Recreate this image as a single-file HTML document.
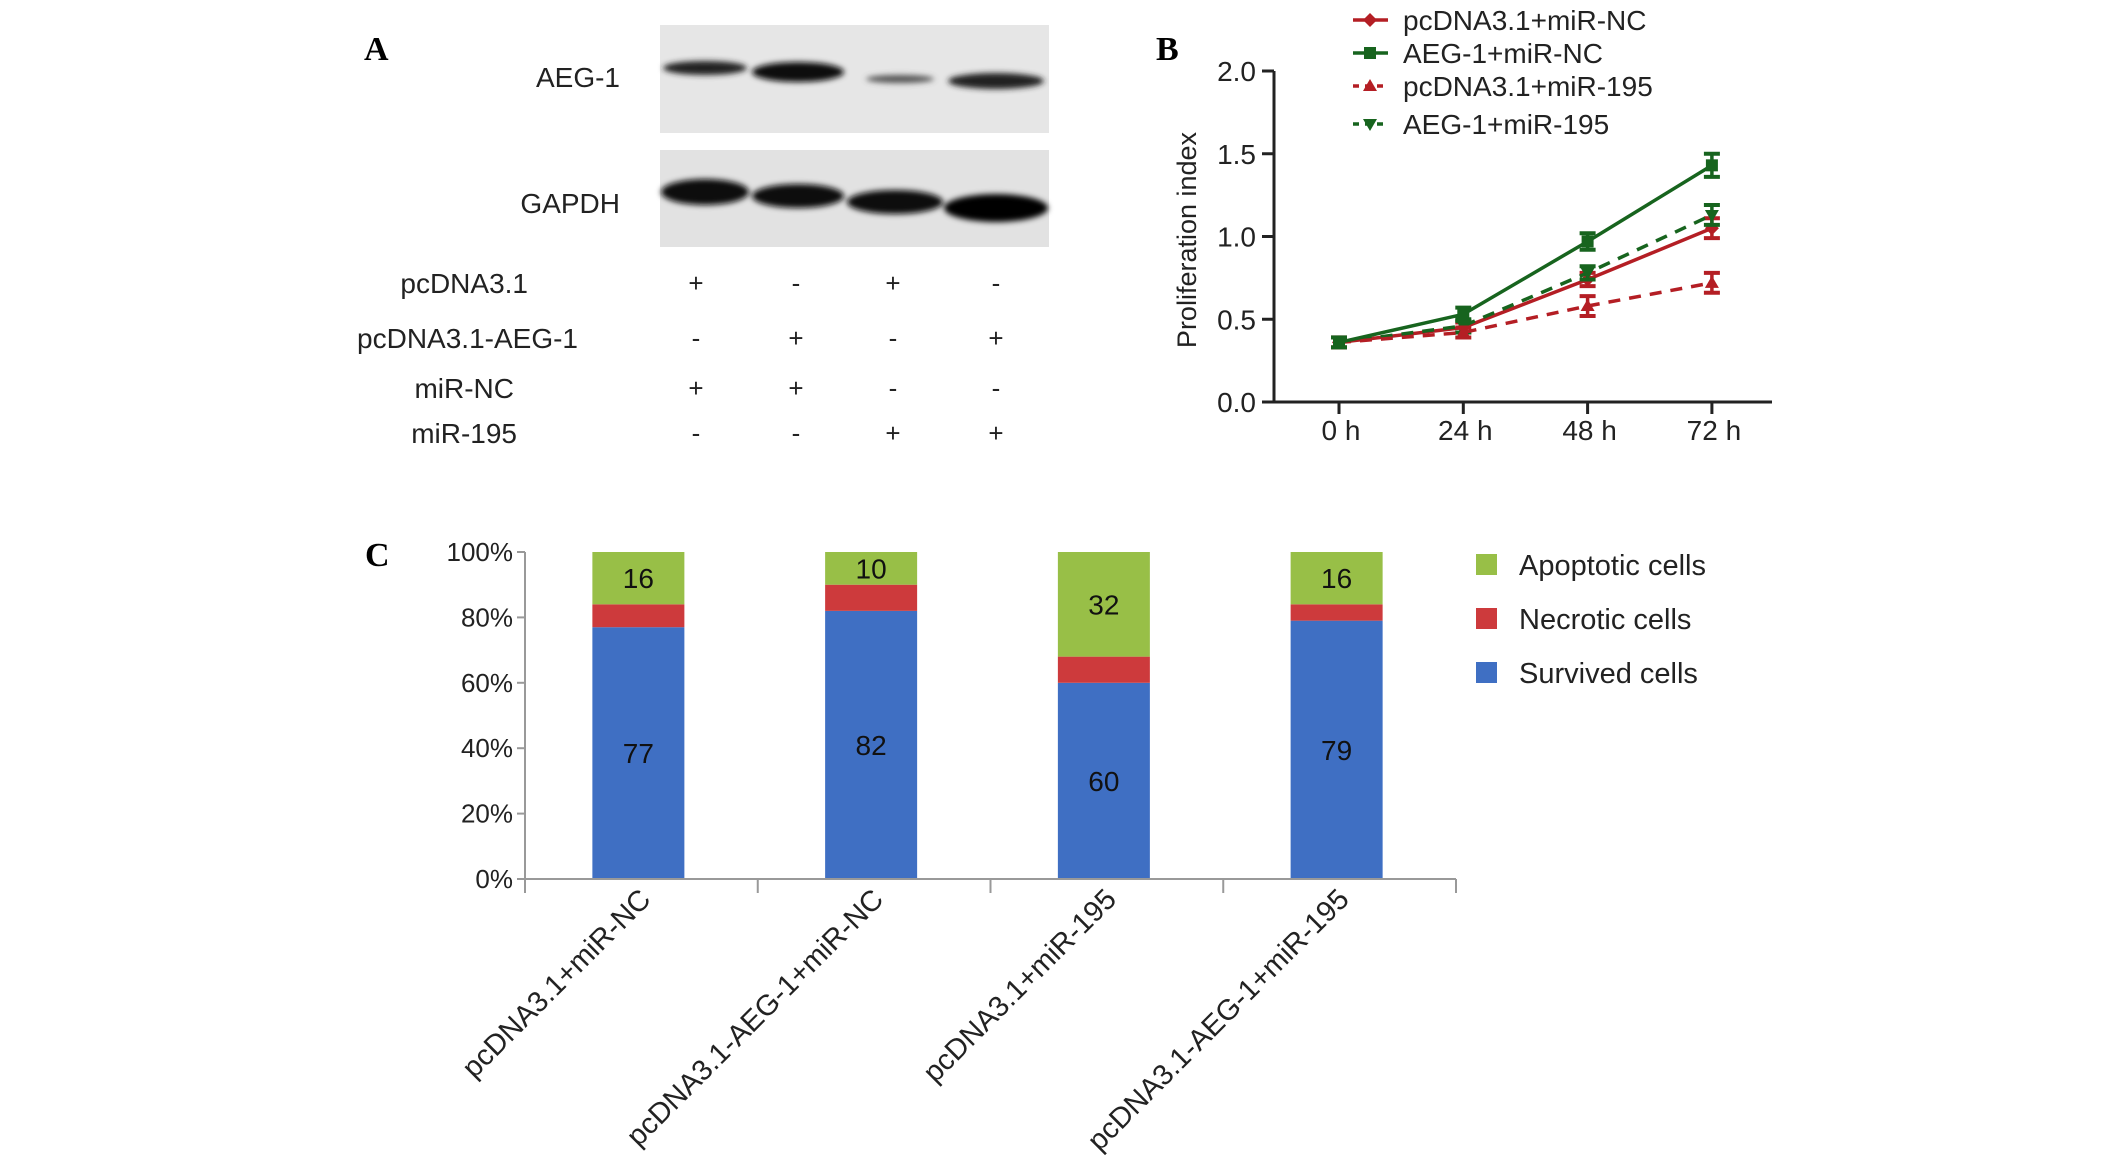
<!DOCTYPE html>
<html><head><meta charset="utf-8"><style>
html,body{margin:0;padding:0;background:#fff;}
svg{display:block;font-family:"Liberation Sans",Arial,sans-serif;}
</style></head><body>
<svg id="fig" width="2126" height="1173" viewBox="0 0 2126 1173" xmlns="http://www.w3.org/2000/svg">
<defs>
<filter id="blur" x="-20%" y="-50%" width="140%" height="200%"><feGaussianBlur stdDeviation="3"/></filter>
</defs>
<g id="panelA">
<text x="364" y="60" font-family="Liberation Serif,serif" font-weight="bold" font-size="34">A</text>
<rect x="660" y="25" width="389" height="108" fill="#e6e6e6"/>
<rect x="660" y="150" width="389" height="97" fill="#e2e2e2"/>
<text x="620" y="87" text-anchor="end" font-size="28" fill="#222">AEG-1</text>
<text x="620" y="213" text-anchor="end" font-size="28" fill="#222">GAPDH</text>
<g filter="url(#blur)">
<ellipse cx="705" cy="68" rx="42" ry="7" fill="#222"/>
<ellipse cx="798" cy="72" rx="46" ry="10" fill="#111"/>
<ellipse cx="900" cy="79" rx="34" ry="4" fill="#555"/>
<ellipse cx="996" cy="81" rx="48" ry="8" fill="#222"/>
<ellipse cx="705" cy="192" rx="44" ry="13" fill="#0a0a0a"/>
<ellipse cx="798" cy="196" rx="46" ry="12" fill="#0d0d0d"/>
<ellipse cx="895" cy="202" rx="48" ry="12" fill="#0a0a0a"/>
<ellipse cx="996" cy="208" rx="52" ry="14" fill="#050505"/>
</g>
<g font-size="28" fill="#222" text-anchor="end">
<text x="528" y="293">pcDNA3.1</text>
<text x="578" y="348">pcDNA3.1-AEG-1</text>
<text x="514" y="398">miR-NC</text>
<text x="517" y="443">miR-195</text>
</g>
<g id="signs" font-size="26" fill="#222" text-anchor="middle"></g>
</g>
<g id="panelB">
<text x="1156" y="60" font-family="Liberation Serif,serif" font-weight="bold" font-size="34">B</text>
<text transform="translate(1196,240) rotate(-90)" text-anchor="middle" font-size="27" fill="#222">Proliferation index</text>
<g id="bAxes"></g>
<g id="bSeries"></g>
<g id="bLegend"></g>
</g>
<g id="panelC">
<text x="365" y="566" font-family="Liberation Serif,serif" font-weight="bold" font-size="34">C</text>
<g id="cBars"></g>
<g id="cAxes"></g>
<g id="cLegend"></g>
</g>
</svg>
<script>
const blotRows = [['+','-','+','-'],['-','+','-','+'],['+','+','-','-'],['-','-','+','+']];
const bCategories = ['0 h','24 h','48 h','72 h'];
const bTicks = [0.0,0.5,1.0,1.5,2.0];
const bSeriesNames = ['pcDNA3.1+miR-NC','AEG-1+miR-NC','pcDNA3.1+miR-195','AEG-1+miR-195'];
const bRedSolid = [0.36,0.45,0.74,1.05];
const bGreenSolid = [0.36,0.53,0.97,1.43];
const bRedDash = [0.36,0.42,0.58,0.72];
const bGreenDash = [0.36,0.46,0.78,1.13];
const bRedSolidErr = [0.03,0.03,0.04,0.06];
const bGreenSolidErr = [0.03,0.04,0.05,0.07];
const bRedDashErr = [0.03,0.03,0.06,0.06];
const bGreenDashErr = [0.03,0.04,0.04,0.06];
const cCategories = ['pcDNA3.1+miR-NC','pcDNA3.1-AEG-1+miR-NC','pcDNA3.1+miR-195','pcDNA3.1-AEG-1+miR-195'];
const cSurvived = [77,82,60,79];
const cNecrotic = [7,8,8,5];
const cApoptotic = [16,10,32,16];
const cTicks = [0,20,40,60,80,100];
const cLegendNames = ['Apoptotic cells','Necrotic cells','Survived cells'];

const NS='http://www.w3.org/2000/svg';
function mk(tag, attrs, parent, text){const e=document.createElementNS(NS,tag);for(const k in attrs)e.setAttribute(k,attrs[k]);if(text!==undefined)e.textContent=text;parent.appendChild(e);return e;}

const signX=[696,796,893,996], signY=[292,347,397,442];
const sg=document.getElementById('signs');
blotRows.forEach((row,r)=>row.forEach((s,c)=>{
  const t=mk('text',{x:signX[c],y:signY[r]},sg,s);
  
  
}));

const bx0=1274,bx1=1772,by0=402,by1=71;
const bX=i=>1339+i*124.3;
const bY=v=>by0-(v/2)*(by0-by1);
const ba=document.getElementById('bAxes');
let l=mk('line',{x1:bx0,y1:by1,x2:bx0,y2:by0,stroke:'#222','stroke-width':3},ba);


l=mk('line',{x1:bx0-12,y1:by0,x2:bx1,y2:by0,stroke:'#222','stroke-width':3},ba);


bTicks.forEach(v=>{
  mk('line',{x1:bx0-12,y1:bY(v),x2:bx0,y2:bY(v),stroke:'#222','stroke-width':3},ba);
  const t=mk('text',{x:bx0-18,y:bY(v)+10,'text-anchor':'end','font-size':28,fill:'#222'},ba,v.toFixed(1));
  
  
});
bCategories.forEach((c,i)=>{
  mk('line',{x1:bX(i),y1:by0,x2:bX(i),y2:by0+12,stroke:'#222','stroke-width':3},ba);
  const t=mk('text',{x:bX(i)+2,y:by0+38,'text-anchor':'middle','font-size':28,fill:'#222'},ba,c);
  
  
});
const RED='#b41e24',GREEN='#17641e';
const bSer=[
 {vals:bRedSolid,err:bRedSolidErr,color:RED,dash:'',mark:'diamond',name:'series-pcdna31-mir-nc',ni:0},
 {vals:bGreenDash,err:bGreenDashErr,color:GREEN,dash:'12,9',mark:'tri-down',name:'series-aeg1-mir-195',ni:3},
 {vals:bRedDash,err:bRedDashErr,color:RED,dash:'12,9',mark:'tri-up',name:'series-pcdna31-mir-195',ni:2},
 {vals:bGreenSolid,err:bGreenSolidErr,color:GREEN,dash:'',mark:'square',name:'series-aeg1-mir-nc',ni:1}
];
function marker(type,x,y,color,parent){
  let e;
  if(type==='square')e=mk('rect',{x:x-6,y:y-6,width:12,height:12,fill:color},parent);
  else if(type==='diamond')e=mk('polygon',{points:`${x},${y-7} ${x+7},${y} ${x},${y+7} ${x-7},${y}`,fill:color},parent);
  else if(type==='tri-up')e=mk('polygon',{points:`${x},${y-7} ${x+7},${y+5} ${x-7},${y+5}`,fill:color},parent);
  else e=mk('polygon',{points:`${x},${y+7} ${x+7},${y-5} ${x-7},${y-5}`,fill:color},parent);
  return e;
}
const bs=document.getElementById('bSeries');
bSer.forEach(s=>{
  const g=mk('g',{},bs);
  
  
  const pts=s.vals.map((v,i)=>bX(i)+','+bY(v)).join(' ');
  const pl=mk('polyline',{points:pts,fill:'none',stroke:s.color,'stroke-width':3.5,'stroke-dasharray':s.dash},g);
  
  
  s.vals.forEach((v,i)=>{
    const x=bX(i),yt=bY(v+s.err[i]),yb=bY(v-s.err[i]);
    mk('line',{x1:x,y1:yt,x2:x,y2:yb,stroke:s.color,'stroke-width':3.5},g);
    mk('line',{x1:x-8,y1:yt,x2:x+8,y2:yt,stroke:s.color,'stroke-width':4},g);
    mk('line',{x1:x-8,y1:yb,x2:x+8,y2:yb,stroke:s.color,'stroke-width':4},g);
    const m=marker(s.mark,x,bY(v),s.color,g);
    
    
  });
});
const bl=document.getElementById('bLegend');
const legOrder=[0,3,2,1], legY=[20,53,86,124];
legOrder.forEach((si,k)=>{
  const s=bSer[si];
  const g=mk('g',{},bl);
  
  
  mk('line',{x1:1353,y1:legY[k],x2:1388,y2:legY[k],stroke:s.color,'stroke-width':3.5,'stroke-dasharray':s.dash?'6,6':''},g);
  marker(s.mark,1370,legY[k],s.color,g);
  mk('text',{x:1403,y:legY[k]+10,'font-size':28,fill:'#222'},g,bSeriesNames[s.ni]);
});

const cx0=525,cx1=1456,cy0=879,cy1=552;
const cY=v=>cy0-(v/100)*(cy0-cy1);
const catW=(cx1-cx0)/cCategories.length;
const cCenter=i=>cx0+catW*(i+0.5)-3;
const barW=92;
const BLUE='#3f6fc3',CRED='#cd3a3c',CGREEN='#98bf47';
const cb=document.getElementById('cBars');
cCategories.forEach((c,i)=>{
  const x=cCenter(i)-barW/2;
  const s=cSurvived[i],n=cNecrotic[i],a=cApoptotic[i];
  let r=mk('rect',{x:x,y:cY(s),width:barW,height:cY(0)-cY(s),fill:BLUE},cb);
  
  
  r=mk('rect',{x:x,y:cY(s+n),width:barW,height:cY(s)-cY(s+n),fill:CRED},cb);
  
  
  r=mk('rect',{x:x,y:cY(s+n+a),width:barW,height:cY(s+n)-cY(s+n+a),fill:CGREEN},cb);
  
  
  let t=mk('text',{x:cCenter(i),y:cY(s/2)+10,'text-anchor':'middle','font-size':28,fill:'#111'},cb,String(s));
  
  
  t=mk('text',{x:cCenter(i),y:cY(s+n+a/2)+10,'text-anchor':'middle','font-size':28,fill:'#111'},cb,String(a));
  
  
});
const ca=document.getElementById('cAxes');
l=mk('line',{x1:cx0,y1:cy1,x2:cx0,y2:cy0+14,stroke:'#999','stroke-width':2},ca);


l=mk('line',{x1:cx0,y1:cy0,x2:cx1,y2:cy0,stroke:'#999','stroke-width':2},ca);


cTicks.forEach(v=>{
  mk('line',{x1:cx0-8,y1:cY(v),x2:cx0,y2:cY(v),stroke:'#999','stroke-width':2},ca);
  const t=mk('text',{x:cx0-12,y:cY(v)+9,'text-anchor':'end','font-size':26,fill:'#222'},ca,v+'%');
  
  
});
for(let i=0;i<=cCategories.length;i++){
  mk('line',{x1:cx0+catW*i,y1:cy0,x2:cx0+catW*i,y2:cy0+14,stroke:'#999','stroke-width':2},ca);
}
cCategories.forEach((c,i)=>{
  const x=cCenter(i)+14,y=cy0+22;
  const t=mk('text',{x:x,y:y,'text-anchor':'end','font-size':29,fill:'#222',transform:`rotate(-45 ${x} ${y})`},ca,c);
  
  
});
const cl=document.getElementById('cLegend');
const cLegColors=[CGREEN,CRED,BLUE], cLegY=[565,619,673];
cLegendNames.forEach((n,k)=>{
  const g=mk('g',{},cl);
  
  
  mk('rect',{x:1476,y:cLegY[k]-11,width:21,height:21,fill:cLegColors[k]},g);
  mk('text',{x:1519,y:cLegY[k]+10,'font-size':29,fill:'#222'},g,n);
});
</script>
</body></html>
